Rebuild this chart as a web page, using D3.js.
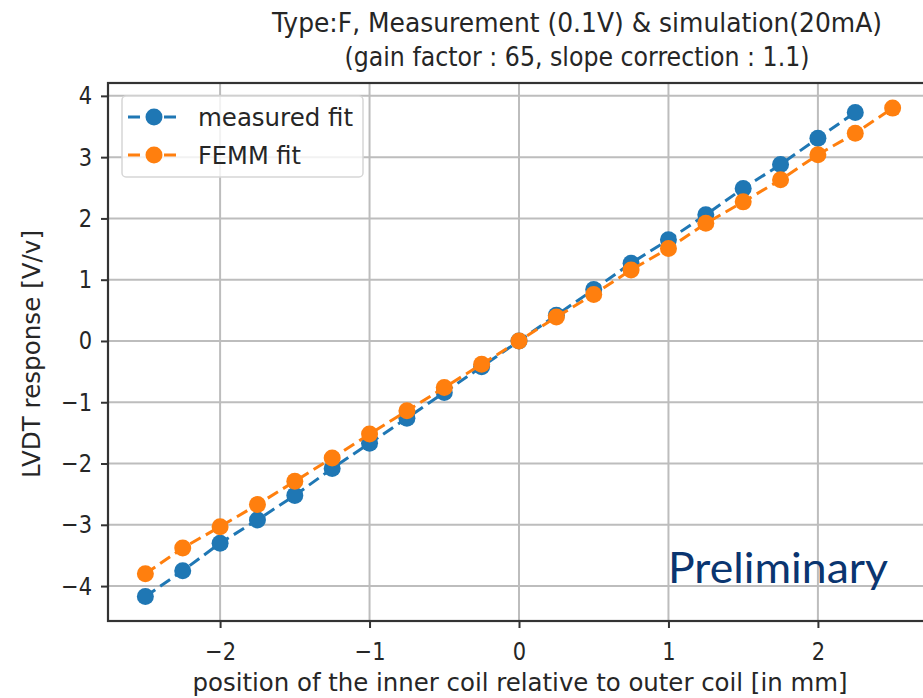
<!DOCTYPE html>
<html>
<head>
<meta charset="utf-8">
<script src="https://cdn.jsdelivr.net/npm/d3@7/dist/d3.min.js"></script>
<style>
  html, body { margin: 0; padding: 0; background: #fff; }
  svg { display: block; }
</style>
</head>
<body>
<svg id="chart" width="923" height="698"></svg>
<script>
// Positions of the inner coil (mm)
const measuredX = [-2.5, -2.25, -2, -1.75, -1.5, -1.25, -1, -0.75, -0.5, -0.25, 0,
                   0.25, 0.5, 0.75, 1, 1.25, 1.5, 1.75, 2, 2.25];
const measuredY = [-4.17, -3.75, -3.30, -2.92, -2.52, -2.08, -1.67, -1.26, -0.84, -0.42, 0,
                   0.42, 0.84, 1.27, 1.65, 2.06, 2.49, 2.88, 3.31, 3.73];
const femmX = [-2.5, -2.25, -2, -1.75, -1.5, -1.25, -1, -0.75, -0.5, -0.25, 0,
               0.25, 0.5, 0.75, 1, 1.25, 1.5, 1.75, 2, 2.25, 2.5];
const femmY = [-3.80, -3.38, -3.03, -2.67, -2.29, -1.91, -1.52, -1.14, -0.76, -0.38, 0,
               0.39, 0.76, 1.16, 1.51, 1.92, 2.27, 2.63, 3.04, 3.39, 3.80];
const xTicks = [-2, -1, 0, 1, 2];
const yTicks = [-4, -3, -2, -1, 0, 1, 2, 3, 4];
const seriesNames = ["measured fit", "FEMM fit"];
const seriesColors = ["#1f77b4", "#ff7f0e"];
const titleLines = ["Type:F, Measurement (0.1V) & simulation(20mA)",
                    "(gain factor : 65, slope correction : 1.1)"];
const xLabel = "position of the inner coil relative to outer coil [in mm]";
const yLabel = "LVDT response [V/v]";
const stamp = "Preliminary";

const svg = d3.select("#chart");
const plotLeft = 108, plotRight = 930, plotTop = 83, plotBottom = 621;

const x = d3.scaleLinear().domain([-2.75, 2.75]).range([plotLeft, plotRight]);
const y = d3.scaleLinear().domain([-4.57, 4.21]).range([plotBottom, plotTop]);

const font = "'DejaVu Sans', sans-serif";
const textColor = "#262626";

// text with a fixed rendered width
function label(parent, str, opts) {
  const t = parent.append("text")
    .attr("x", opts.x || 0).attr("y", opts.y || 0)
    .attr("fill", opts.fill || textColor)
    .attr("text-anchor", opts.anchor || "start")
    .style("font-family", opts.family || font)
    .style("font-size", opts.size + "px")
    .text(str);
  if (opts.width) t.attr("textLength", opts.width).attr("lengthAdjust", "spacingAndGlyphs");
  if (opts.transform) t.attr("transform", opts.transform);
  return t;
}

// grid
const grid = svg.append("g");
grid.selectAll("line.gx").data(xTicks).join("line")
  .attr("class", "gx")
  .attr("x1", d => x(d)).attr("x2", d => x(d))
  .attr("y1", plotTop).attr("y2", plotBottom)
  .attr("stroke", "#bdbdbd").attr("stroke-width", 2);
grid.selectAll("line.gy").data(yTicks).join("line")
  .attr("class", "gy")
  .attr("y1", d => y(d)).attr("y2", d => y(d))
  .attr("x1", plotLeft).attr("x2", plotRight)
  .attr("stroke", "#bdbdbd").attr("stroke-width", 2);

// axes
const minus = d => d < 0 ? "\u2212" + Math.abs(d) : String(d);
const xAxis = d3.axisBottom(x).tickValues(xTicks).tickSize(7).tickPadding(10).tickFormat(minus);
const yAxis = d3.axisLeft(y).tickValues(yTicks).tickSize(7).tickPadding(9).tickFormat(minus);

const gx = svg.append("g").attr("transform", `translate(0,${plotBottom})`).call(xAxis);
const gy = svg.append("g").attr("transform", `translate(${plotLeft},0)`).call(yAxis);
[gx, gy].forEach(g => {
  g.select(".domain").remove();
  g.selectAll(".tick line").attr("stroke", "#333").attr("stroke-width", 2);
  g.selectAll(".tick text").attr("fill", textColor)
    .style("font-family", font).style("font-size", "21px");
});
// slightly taller tick digits
gx.selectAll(".tick text").attr("transform", "translate(0,1) scale(1,1.18)");
gy.selectAll(".tick text").attr("transform", "scale(1,1.18)")
  .attr("y", 0)
  .attr("dy", "0.32em");

// frame
svg.append("rect")
  .attr("x", plotLeft).attr("y", plotTop)
  .attr("width", plotRight - plotLeft).attr("height", plotBottom - plotTop)
  .attr("fill", "none").attr("stroke", "#333").attr("stroke-width", 2.2);

// series
const line = d3.line().x(d => x(d[0])).y(d => y(d[1]));
const series = [
  d3.zip(measuredX, measuredY),
  d3.zip(femmX, femmY)
];
series.forEach((pts, i) => {
  const g = svg.append("g");
  g.append("path").datum(pts)
    .attr("d", line)
    .attr("fill", "none")
    .attr("stroke", seriesColors[i])
    .attr("stroke-width", 3)
    .attr("stroke-dasharray", "12,6");
  g.selectAll("circle").data(pts).join("circle")
    .attr("cx", d => x(d[0])).attr("cy", d => y(d[1]))
    .attr("r", 8.5)
    .attr("fill", seriesColors[i]);
});

// legend
const lg = svg.append("g");
lg.append("rect")
  .attr("x", 122).attr("y", 96).attr("width", 241).attr("height", 81)
  .attr("rx", 4)
  .attr("fill", "rgba(255,255,255,0.8)")
  .attr("stroke", "#d6d6d6").attr("stroke-width", 1.5);
const legendWidths = [155, 103];
seriesNames.forEach((name, i) => {
  const cy = 117 + i * 38;
  lg.append("line")
    .attr("x1", 128).attr("x2", 180).attr("y1", cy).attr("y2", cy)
    .attr("stroke", seriesColors[i]).attr("stroke-width", 3)
    .attr("stroke-dasharray", "12,6");
  lg.append("circle").attr("cx", 154).attr("cy", cy).attr("r", 8.5)
    .attr("fill", seriesColors[i]);
  label(lg, name, { x: 198, y: cy + 9, size: 24, width: legendWidths[i] });
});

// title
const titleWidths = [610, 465];
titleLines.forEach((t, i) => {
  label(svg, t, { x: 577, y: 32 + i * 34, size: 26, anchor: "middle", width: titleWidths[i] });
});

// axis labels
label(svg, xLabel, { x: 520, y: 691, size: 24, anchor: "middle", width: 655 });
label(svg, yLabel, { size: 24, anchor: "middle", width: 248,
                     transform: "translate(40,354) rotate(-90)" });

// stamp
label(svg, stamp, { x: 668, y: 583, size: 43, fill: "#0a3570",
                    family: "Lato, 'Open Sans', sans-serif", width: 220 });
</script>
</body>
</html>
